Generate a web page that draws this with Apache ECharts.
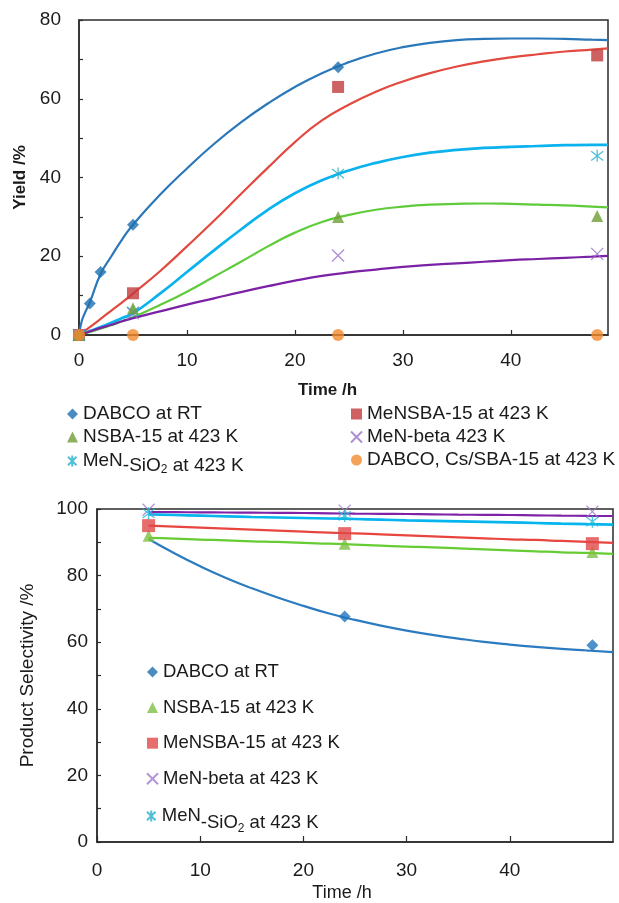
<!DOCTYPE html>
<html>
<head>
<meta charset="utf-8">
<script src="https://cdn.jsdelivr.net/npm/echarts@6/dist/echarts.min.js"></script>
<style>
html, body { margin: 0; padding: 0; background: #fff; }
#main { width: 619px; height: 903px; }
</style>
</head>
<body>
<div id="main"></div>
<script>
// ---- top panel: yield vs time ----
var yTimeDabco = [0, 1, 2, 5, 24];
var yDabco = [0, 8, 16, 28, 68];
var yTime = [0, 5, 24, 48];
var yMeNSBA = [0, 10.6, 63, 71];
var yNSBA = [0, 6.8, 30, 30.2];
var yBeta = [0, 5.5, 20.2, 20.6];
var ySiO2 = [0, 6, 41, 45.5];
var yCs = [0, 0, 0, 0];

// trend curves
var yFitT = [0, 0.25, 0.5, 1, 2, 3, 4, 5, 7.5, 10, 12.5, 15, 17.5, 20, 22.5, 25,
             27.5, 30, 32.5, 35, 37.5, 40, 42.5, 45, 47.5, 49];
var yFitDabco = [0, 3.5, 5.3, 8.3, 15.5, 20, 24.3, 28, 35.6, 42.3, 48.5, 54, 58.8, 63, 66.5, 69.3,
                 71.5, 73.1, 74.2, 74.9, 75.2, 75.3, 75.3, 75.2, 75, 74.9];
var yFitMeNSBA = [0, 0.5, 1, 2, 4.1, 6.2, 8.3, 10.5, 16.2, 22.5, 29, 35.8, 42.5, 49, 54.5, 58.5,
                  61.8, 64.4, 66.5, 68.2, 69.5, 70.5, 71.3, 72, 72.5, 72.8];
var yFitSiO2 = [0, 0.25, 0.5, 1, 2, 3.1, 4.3, 5.5, 10.5, 16, 21.5, 26.8, 31.8, 36, 39.3, 41.8,
                43.7, 45.2, 46.3, 47, 47.5, 47.8, 48, 48.2, 48.3, 48.3];
var yFitNSBA = [0, 0.2, 0.4, 0.8, 1.6, 2.5, 3.5, 4.5, 7.6, 11, 14.8, 18.6, 22.5, 26, 28.7, 30.5,
                31.8, 32.6, 33.1, 33.3, 33.4, 33.3, 33.1, 32.9, 32.6, 32.4];
var yFitBeta = [0, 0.2, 0.45, 0.9, 1.8, 2.6, 3.5, 4.3, 6, 7.7, 9.3, 10.9, 12.4, 13.8, 15, 15.9,
                16.6, 17.3, 17.8, 18.2, 18.6, 19, 19.3, 19.6, 19.9, 20.1];

// ---- bottom panel: selectivity vs time ----
var sTimeDabco = [24, 48];
var sDabco = [67.7, 59.1];
var sTime = [5, 24, 48];
var sNSBA = [92, 89.6, 87.1];
var sMeNSBA = [95, 92.6, 89.6];
var sBeta = [99.8, 99.5, 99.2];
var sSiO2 = [98.7, 97.9, 96.2];

var sFitT = [5, 7.5, 10, 12.5, 15, 17.5, 20, 22.5, 25, 27.5, 30, 32.5, 35, 37.5, 40, 42.5, 45, 47.5, 50];
var sFitDabco = [91, 86.7, 82.8, 79.3, 76.2, 73.4, 70.9, 68.6, 66.7, 65, 63.5, 62.2, 61.1, 60.1, 59.3, 58.6, 58, 57.5, 57];
var sFitNSBA = [91.3, 91.1, 90.8, 90.6, 90.3, 90.1, 89.8, 89.6, 89.3, 89, 88.7, 88.5, 88.2, 87.9, 87.6, 87.3, 87, 86.8, 86.5];
var sFitMeNSBA = [95, 94.7, 94.4, 94.1, 93.8, 93.5, 93.2, 92.9, 92.7, 92.4, 92.1, 91.8, 91.5, 91.2, 90.9, 90.7, 90.4, 90.1, 89.8];
var sFitBeta = [99.1, 99.05, 99, 98.95, 98.9, 98.85, 98.8, 98.7, 98.6, 98.55, 98.5, 98.4, 98.3, 98.25, 98.2, 98.1, 98, 97.95, 97.9];
var sFitSiO2 = [98.4, 98.2, 98, 97.8, 97.6, 97.45, 97.3, 97.15, 97, 96.8, 96.6, 96.45, 96.3, 96.15, 96, 95.8, 95.6, 95.45, 95.3];

var FONT = 'Liberation Sans';
var TXT = '#1a1a1a';
var xMark = 'path://M0,0L10,10M10,0L0,10';
var starMark = 'path://M0,0L10,10M10,0L0,10M5,-1.5L5,11.5';

function zip(t, v) {
    return t.map(function (x, i) { return [x, v[i]]; });
}

function fit(name, idx, t, v, color, w) {
    return {
        type: 'line', name: name, xAxisIndex: idx, yAxisIndex: idx,
        data: zip(t, v), showSymbol: false, symbol: 'none',
        smooth: 0.5, silent: true,
        lineStyle: { color: color, width: w || 2.2 }, z: 2
    };
}

function pts(name, idx, t, v, symbol, size, color, stroke) {
    var style = stroke
        ? { color: 'rgba(0,0,0,0)', borderColor: color, borderWidth: 1.3 }
        : { color: color };
    return {
        type: 'scatter', name: name, xAxisIndex: idx, yAxisIndex: idx,
        data: zip(t, v), symbol: symbol, symbolSize: size,
        itemStyle: style, z: 3
    };
}

function yLabel(v) { return v % 20 === 0 ? v : ''; }

var axisLine = { show: true, lineStyle: { color: '#2b2b2b', width: 1.5 } };
var tickLine = { color: '#2b2b2b', width: 1.2 };

function legendText(size, sub, sub2) {
    return {
        fontFamily: FONT, fontSize: size, color: TXT, lineHeight: 20,
        rich: {
            m: { fontFamily: FONT, fontSize: size, color: TXT, lineHeight: 20 },
            s: { fontFamily: FONT, fontSize: size, color: TXT, lineHeight: 20, padding: [sub, 0, 0, 0] },
            t: { fontFamily: FONT, fontSize: 12, color: TXT, lineHeight: 14, padding: [sub2, 0, 0, 0] }
        }
    };
}

function sio2Fmt() {
    return '{m|MeN}{s|-SiO}{t|2}{s| at 423 K}';
}

function legend(left, top, gap, size, data) {
    return {
        orient: 'vertical', left: left, top: top, padding: 0, itemGap: gap,
        itemWidth: 11, itemHeight: 11, textStyle: legendText(size, 10, 18), data: data
    };
}

var topSio2 = legend(67, 446, 0, 19, ['MeN-SiO2 at 423 K']);
topSio2.formatter = sio2Fmt;
var botSio2 = legend(146, 797, 0, 18.5, ['MeN-SiO2 at 423 K']);
botSio2.formatter = sio2Fmt;
botSio2.textStyle = legendText(18.5, 13, 26);

var option = {
    animation: false,
    backgroundColor: '#fff',
    grid: [
        { left: 79, top: 20, width: 529, height: 315, show: true, borderColor: '#2b2b2b', borderWidth: 1.5 },
        { left: 97, top: 509, width: 516, height: 337, show: true, borderColor: '#2b2b2b', borderWidth: 1.5 }
    ],
    xAxis: [
        {
            type: 'value', gridIndex: 0, min: 0, max: 49, interval: 10,
            name: 'Time /h', nameLocation: 'middle', nameGap: 47,
            nameTextStyle: { fontFamily: FONT, fontSize: 17, fontWeight: 'bold', color: TXT, padding: [0, 32, 0, 0] },
            axisLine: axisLine,
            axisTick: { show: true, inside: true, length: 5, lineStyle: tickLine },
            axisLabel: { fontFamily: FONT, fontSize: 19, color: TXT, margin: 16, showMaxLabel: false },
            splitLine: { show: false }
        },
        {
            type: 'value', gridIndex: 1, min: 0, max: 50, interval: 10,
            name: 'Time /h', nameLocation: 'middle', nameGap: 42,
            nameTextStyle: { fontFamily: FONT, fontSize: 18, color: TXT, padding: [0, 26, 0, 0] },
            axisLine: axisLine,
            axisTick: { show: true, inside: true, length: 6, lineStyle: tickLine },
            axisLabel: { fontFamily: FONT, fontSize: 19, color: TXT, margin: 19, showMaxLabel: false },
            splitLine: { show: false }
        }
    ],
    yAxis: [
        {
            type: 'value', gridIndex: 0, min: 0, max: 80, interval: 10,
            name: 'Yield /%', nameLocation: 'middle', nameGap: 42,
            nameTextStyle: { fontFamily: FONT, fontSize: 17, fontWeight: 'bold', color: TXT },
            axisLine: axisLine,
            axisTick: { show: true, inside: true, length: 4, lineStyle: tickLine },
            axisLabel: { fontFamily: FONT, fontSize: 19, color: TXT, margin: 18, formatter: yLabel },
            splitLine: { show: false }
        },
        {
            type: 'value', gridIndex: 1, min: 0, max: 100, interval: 10,
            name: 'Product Selectivity /%', nameLocation: 'middle', nameGap: 60,
            nameTextStyle: { fontFamily: FONT, fontSize: 19, color: TXT },
            axisLine: axisLine,
            axisTick: { show: true, inside: true, length: 4, lineStyle: tickLine },
            axisLabel: { fontFamily: FONT, fontSize: 19, color: TXT, margin: 9, formatter: yLabel },
            splitLine: { show: false }
        }
    ],
    legend: [
        legend(67, 404, 3, 19, ['DABCO at RT', 'NSBA-15 at 423 K']),
        topSio2,
        legend(350, 404, 3, 19, ['MeNSBA-15 at 423 K', 'MeN-beta 423 K', 'DABCO, Cs/SBA-15 at 423 K']),
        legend(146, 662, 15.6, 18.5, [
            { name: 'DABCO at RT' },
            { name: 'NSBA-15 at 423 K', itemStyle: { color: '#7EC043' } },
            { name: 'MeNSBA-15 at 423 K', itemStyle: { color: '#E14747' } },
            { name: 'MeN-beta at 423 K' }
        ]),
        botSio2
    ],
    series: [
        fit('fit-dabco', 0, yFitT, yFitDabco, '#2A78BA'),
        fit('fit-mensba', 0, yFitT, yFitMeNSBA, '#E2493F'),
        fit('fit-sio2', 0, yFitT, yFitSiO2, '#0AB2EE', 2.7),
        fit('fit-nsba', 0, yFitT, yFitNSBA, '#5FCB3A'),
        fit('fit-beta', 0, yFitT, yFitBeta, '#7B21A6'),

        pts('DABCO at RT', 0, yTimeDabco, yDabco, 'diamond', 12, '#1E6FB0'),
        pts('MeNSBA-15 at 423 K', 0, yTime, yMeNSBA, 'rect', 12, '#C23B3B'),
        pts('MeN-beta 423 K', 0, yTime, yBeta, xMark, 12, '#9A70C8', true),
        pts('MeN-SiO2 at 423 K', 0, yTime, ySiO2, starMark, 12, '#25AFCB', true),
        pts('NSBA-15 at 423 K', 0, yTime, yNSBA, 'triangle', 12, '#6E9E35'),
        pts('DABCO, Cs/SBA-15 at 423 K', 0, yTime, yCs, 'circle', 12, '#F28A2E'),

        fit('sfit-dabco', 1, sFitT, sFitDabco, '#2C7BC0'),
        fit('sfit-nsba', 1, sFitT, sFitNSBA, '#66CC33'),
        fit('sfit-mensba', 1, sFitT, sFitMeNSBA, '#E8453F'),
        fit('sfit-beta', 1, sFitT, sFitBeta, '#7F22A8'),
        fit('sfit-sio2', 1, sFitT, sFitSiO2, '#06B4EE', 2.7),

        pts('DABCO at RT', 1, sTimeDabco, sDabco, 'diamond', 12, '#1F75BE'),
        pts('NSBA-15 at 423 K', 1, sTime, sNSBA, 'triangle', 12, '#7EC043'),
        pts('MeNSBA-15 at 423 K', 1, sTime, sMeNSBA, 'rect', 13, '#E14747'),
        pts('MeN-beta at 423 K', 1, sTime, sBeta, xMark, 12, '#A07AD0', true),
        pts('MeN-SiO2 at 423 K', 1, sTime, sSiO2, starMark, 12, '#1DBAD8', true)
    ]
};

var myChart = echarts.init(document.getElementById('main'));
myChart.setOption(option);
</script>
</body>
</html>
